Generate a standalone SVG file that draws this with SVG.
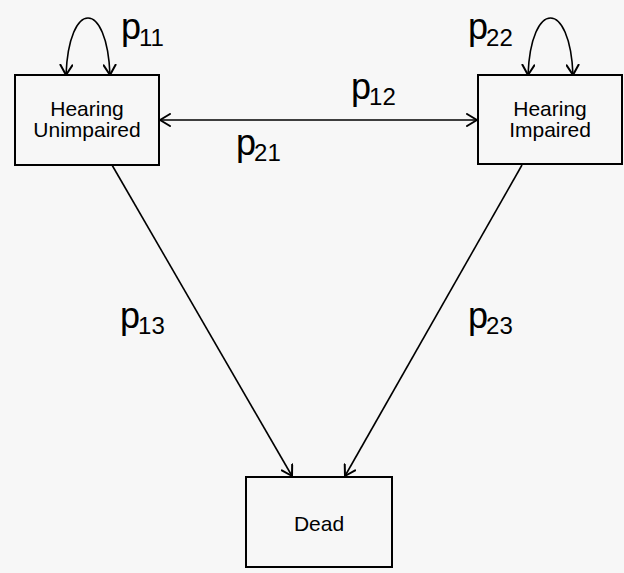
<svg xmlns="http://www.w3.org/2000/svg" width="624" height="573" viewBox="0 0 624 573">
  <defs>
    <marker id="arr" viewBox="0 0 12 14" refX="11" refY="7" markerWidth="12" markerHeight="14" markerUnits="userSpaceOnUse" orient="auto-start-reverse">
      <path d="M1,1 L11,7 L1,13" fill="none" stroke="#000" stroke-width="2" stroke-linecap="round" stroke-linejoin="round"/>
    </marker>
    <style>
      .box { fill: none; stroke: #000; stroke-width: 2; }
      .lbl { font-family: "Liberation Sans", Arial, sans-serif; font-size: 21px; text-anchor: middle; fill: #000; }
      .p { font-family: "Liberation Sans", Arial, sans-serif; font-size: 36px; fill: #000; }
      .sub { font-size: 24px; }
      .conn { fill: none; stroke: #000; stroke-width: 1.6; }
    </style>
  </defs>
  <rect x="0" y="0" width="624" height="573" fill="#f7f7f7"/>

  <g id="connectors">
    <path class="conn" d="M66,75 C69,-1 107,-1 110,75" marker-start="url(#arr)" marker-end="url(#arr)"/>
    <path class="conn" d="M528,75 C531,-1 570,-1 573,75" marker-start="url(#arr)" marker-end="url(#arr)"/>
    <line class="conn" x1="160" y1="120" x2="477" y2="120" marker-start="url(#arr)" marker-end="url(#arr)"/>
    <line class="conn" x1="112" y1="165" x2="292" y2="476" marker-end="url(#arr)"/>
    <line class="conn" x1="522" y1="165" x2="345" y2="476" marker-end="url(#arr)"/>
  </g>

  <g id="node-unimpaired">
    <rect class="box" x="15" y="75" width="144" height="90"/>
    <text class="lbl" x="87" y="116">Hearing</text>
    <text class="lbl" x="87" y="137">Unimpaired</text>
  </g>

  <g id="node-impaired">
    <rect class="box" x="478" y="75" width="144" height="89"/>
    <text class="lbl" x="550" y="116">Hearing</text>
    <text class="lbl" x="550" y="137">Impaired</text>
  </g>

  <g id="node-dead">
    <rect class="box" x="246" y="477" width="146" height="90"/>
    <text class="lbl" x="319" y="531">Dead</text>
  </g>

  <g id="labels">
    <text class="p" x="121" y="39">p<tspan class="sub" dx="-2" dy="7">11</tspan></text>
    <text class="p" x="468" y="39">p<tspan class="sub" dx="-2" dy="7">22</tspan></text>
    <text class="p" x="351" y="99">p<tspan class="sub" dx="-2" dy="6">12</tspan></text>
    <text class="p" x="236" y="155">p<tspan class="sub" dx="-2" dy="6">21</tspan></text>
    <text class="p" x="120" y="328">p<tspan class="sub" dx="-2" dy="6">13</tspan></text>
    <text class="p" x="468" y="328">p<tspan class="sub" dx="-2" dy="6">23</tspan></text>
  </g>
</svg>
